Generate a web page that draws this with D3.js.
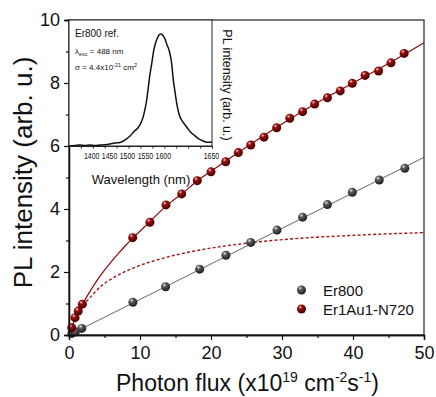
<!DOCTYPE html>
<html>
<head>
<meta charset="utf-8">
<script src="https://cdn.jsdelivr.net/npm/d3@7"></script>
<style>
  body { margin: 0; background: #fff; }
  svg { display: block; font-family: "Liberation Sans", Arial, sans-serif; }
</style>
</head>
<body>
<svg id="chart" width="436" height="397"></svg>
<script>
// main panel data (photon flux in 1e19 cm^-2 s^-1, PL in arb. u.)
const er800X = [0.4, 0.9, 1.8, 9, 13.6, 18.4, 22.1, 25.6, 29.3, 32.9, 36.4, 39.9, 43.7, 47.3];
const er800Y = [0.05, 0.1, 0.21, 1.04, 1.53, 2.09, 2.53, 2.94, 3.33, 3.74, 4.14, 4.53, 4.92, 5.29];
const er1X = [0.38, 0.85, 1.3, 1.88, 8.97, 11.4, 13.66, 15.87, 18.07, 20, 22.07, 23.85, 25.6, 27.46,
  29.25, 31.1, 32.9, 34.6, 36.4, 38.2, 39.9, 41.7, 43.6, 45.35, 47.2];
const er1Y = [0.23, 0.55, 0.76, 0.98, 3.09, 3.58, 4.13, 4.48, 4.9, 5.18, 5.5, 5.79, 6.03, 6.28,
  6.58, 6.88, 7.09, 7.33, 7.53, 7.75, 7.99, 8.24, 8.38, 8.64, 8.94];

// fit curves
const er800FitX = [0, 50];
const er800FitY = [0, 5.64];
const er1FitX = [0, 0.4, 0.9, 1.4, 1.9, 3, 4, 5, 6, 7, 8, 9, 11.4, 13.7, 16, 18, 20, 25, 30, 35, 40, 45, 50];
const er1FitY = [0, 0.24, 0.55, 0.78, 0.98, 1.4, 1.75, 2.06, 2.34, 2.6, 2.85, 3.08, 3.6, 4.1, 4.5, 4.88, 5.2, 5.97, 6.7, 7.38, 8.0, 8.62, 9.28];
const er1DashX = [1.9, 2.6, 4.4, 6.5, 9, 13.8, 18.5, 25.6, 32.5, 39.6, 50];
const er1DashY = [0.95, 1.1, 1.53, 1.85, 2.12, 2.47, 2.7, 2.93, 3.07, 3.16, 3.25];

// inset spectrum (nm, normalised PL)
const specWl = [1350, 1362.6, 1373.1, 1383.6, 1394.1, 1404.5, 1415, 1425.5, 1436, 1446.5, 1457, 1467.5,
  1478, 1486.4, 1494.8, 1501.1, 1505.9, 1509.4, 1513, 1515.7, 1519.9, 1524.1, 1526.8, 1530.4, 1534.6,
  1538.8, 1543, 1547.2, 1551.4, 1555.6, 1559.8, 1561.9, 1565, 1568.8, 1572.4, 1575.9, 1578.7, 1582.9,
  1589.2, 1596.9, 1603.8, 1612.2, 1620.6, 1629, 1635.3, 1641.6, 1650];
const specI = [0, 0.004, 0.008, 0.004, 0.008, 0.004, 0.008, 0.01, 0.016, 0.024, 0.028, 0.048,
  0.079, 0.115, 0.145, 0.185, 0.235, 0.29, 0.365, 0.444, 0.57, 0.667, 0.738, 0.802, 0.849,
  0.881, 0.889, 0.877, 0.849, 0.802, 0.762, 0.73, 0.667, 0.524, 0.429, 0.341, 0.286, 0.23,
  0.19, 0.151, 0.115, 0.087, 0.061, 0.044, 0.034, 0.029, 0.032];

const xTicks = [0, 10, 20, 30, 40, 50];
const yTicks = [0, 2, 4, 6, 8, 10];
const insetTicks = [1400, 1450, 1500, 1550, 1600, 1650];

const red = '#8b0a0a';

const svg = d3.select('#chart');
svg.append('rect').attr('width', 436).attr('height', 397).attr('fill', '#fff');

const defs = svg.append('defs');
function sphereGrad(id, light, mid, dark) {
  const g = defs.append('radialGradient').attr('id', id)
    .attr('cx', '40%').attr('cy', '35%').attr('r', '60%').attr('fx', '35%').attr('fy', '28%');
  g.append('stop').attr('offset', '0%').attr('stop-color', light);
  g.append('stop').attr('offset', '35%').attr('stop-color', mid);
  g.append('stop').attr('offset', '100%').attr('stop-color', dark);
}
sphereGrad('ballRed', '#f4d0d0', '#9a1010', '#4a0000');
sphereGrad('ballGrey', '#eeeeee', '#5c5c5c', '#222222');

const x = d3.scaleLinear().domain([0, 50]).range([69, 424]);
const y = d3.scaleLinear().domain([0, 10]).range([335, 20]);

const line = d3.line().x(d => x(d[0])).y(d => y(d[1])).curve(d3.curveMonotoneX);

// fits
svg.append('path')
  .datum(d3.zip(er1DashX, er1DashY))
  .attr('fill', 'none').attr('stroke', '#a01818').attr('stroke-width', 1.4)
  .attr('stroke-dasharray', '3,2.2').attr('d', line);

svg.append('path')
  .datum(d3.zip(er800FitX, er800FitY))
  .attr('fill', 'none').attr('stroke', '#666').attr('stroke-width', 1).attr('d', line);

svg.append('g').selectAll('circle')
  .data(d3.zip(er800X, er800Y)).join('circle')
  .attr('cx', d => x(d[0])).attr('cy', d => y(d[1])).attr('r', 4.5)
  .attr('fill', 'url(#ballGrey)');

svg.append('path')
  .datum(d3.zip(er1FitX, er1FitY))
  .attr('fill', 'none').attr('stroke', red).attr('stroke-width', 1.2).attr('d', line);

svg.append('g').selectAll('circle')
  .data(d3.zip(er1X, er1Y)).join('circle')
  .attr('cx', d => x(d[0])).attr('cy', d => y(d[1])).attr('r', 4.5)
  .attr('fill', 'url(#ballRed)');

// frame
svg.append('rect')
  .attr('x', x(0)).attr('y', y(10)).attr('width', x(50) - x(0)).attr('height', y(0) - y(10))
  .attr('fill', 'none').attr('stroke', '#333').attr('stroke-width', 1.3);

function styleAxis(g, size) {
  g.select('.domain').attr('stroke', '#111').attr('stroke-width', 1.3);
  g.selectAll('.tick line').attr('stroke', '#111').attr('stroke-width', 1.2);
  g.selectAll('text').attr('font-size', size).attr('fill', '#111')
    .attr('font-family', '"Liberation Sans", Arial, sans-serif');
}

svg.append('g').attr('transform', `translate(0,${y(0)})`)
  .call(d3.axisBottom(x).tickValues(xTicks).tickSize(5).tickPadding(6))
  .call(g => styleAxis(g, 18));
svg.append('g').attr('transform', `translate(0,${y(0)})`)
  .call(d3.axisBottom(x).tickValues([5, 15, 25, 35, 45]).tickSize(3).tickFormat(''))
  .call(g => styleAxis(g, 18));

svg.append('g').attr('transform', `translate(${x(0)},0)`)
  .call(d3.axisLeft(y).tickValues(yTicks).tickSize(5).tickPadding(4))
  .call(g => styleAxis(g, 18));
svg.append('g').attr('transform', `translate(${x(0)},0)`)
  .call(d3.axisLeft(y).tickValues([1, 3, 5, 7, 9]).tickSize(3).tickFormat(''))
  .call(g => styleAxis(g, 18));

// axis titles
svg.append('text')
  .attr('transform', `translate(32,${(y(0) + y(10)) / 2 - 5}) rotate(-90)`)
  .attr('text-anchor', 'middle').attr('font-size', 26).attr('fill', '#111')
  .text('PL intensity (arb. u.)');

const xt = svg.append('text')
  .attr('x', (x(0) + x(50)) / 2 + 1).attr('y', 391)
  .attr('text-anchor', 'middle').attr('font-size', 23).attr('fill', '#111');
xt.append('tspan').text('Photon flux (x10');
xt.append('tspan').attr('font-size', 14).attr('dy', -9).text('19');
xt.append('tspan').attr('dy', 9).text(' cm');
xt.append('tspan').attr('font-size', 14).attr('dy', -9).text('-2');
xt.append('tspan').attr('dy', 9).text('s');
xt.append('tspan').attr('font-size', 14).attr('dy', -9).text('-1');
xt.append('tspan').attr('dy', 9).text(')');

// legend
const legend = svg.append('g');
[['Er800', 'url(#ballGrey)'], ['Er1Au1-N720', 'url(#ballRed)']].forEach((d, i) => {
  legend.append('circle').attr('cx', 301.5).attr('cy', 290 + i * 19).attr('r', 4.5).attr('fill', d[1]);
  legend.append('text').attr('x', 323).attr('y', 295.5 + i * 19)
    .attr('font-size', 15).attr('fill', '#111').text(d[0]);
});

// inset
const xi = d3.scaleLinear().domain([1350, 1650]).range([69, 212]);
const yi = d3.scaleLinear().domain([0, 1]).range([146, 20]);
// tick labels sit slightly off their ticks in the original figure
const xiLabel = d3.scaleLinear().domain([1400, 1600, 1650]).range([91.7, 163.3, 211.5]);

const inset = svg.append('g');
inset.append('rect')
  .attr('x', xi(1350)).attr('y', yi(1)).attr('width', xi(1650) - xi(1350)).attr('height', yi(0) - yi(1))
  .attr('fill', '#fff').attr('stroke', '#222').attr('stroke-width', 1);

inset.append('path')
  .datum(d3.zip(specWl, specI))
  .attr('fill', 'none').attr('stroke', '#111').attr('stroke-width', 1.5)
  .attr('d', d3.line().x(d => xi(d[0])).y(d => yi(d[1])).curve(d3.curveMonotoneX));

inset.append('g').attr('transform', `translate(0,${yi(0)})`)
  .call(d3.axisBottom(xi).tickValues(insetTicks.concat([1375, 1425, 1475, 1525, 1575, 1625])).tickSize(2.5).tickFormat(''))
  .call(g => { g.select('.domain').attr('stroke', '#222'); g.selectAll('.tick line').attr('stroke', '#222'); });

inset.append('g').selectAll('text')
  .data(insetTicks).join('text')
  .attr('x', d => xiLabel(d)).attr('y', 158.5)
  .attr('text-anchor', 'middle').attr('font-size', 8.5).attr('fill', '#111')
  .attr('textLength', 15.5).attr('lengthAdjust', 'spacingAndGlyphs')
  .text(d => d);

inset.append('text')
  .attr('x', 141).attr('y', 183.5).attr('text-anchor', 'middle')
  .attr('font-size', 13).attr('fill', '#111').text('Wavelength (nm)');

inset.append('text')
  .attr('transform', `translate(223,${(yi(0) + yi(1)) / 2 + 2}) rotate(90)`)
  .attr('text-anchor', 'middle').attr('font-size', 12.5).attr('fill', '#111')
  .text('PL intensity (arb. u.)');

inset.append('text').attr('x', 75).attr('y', 37)
  .attr('font-size', 10).attr('fill', '#111').text('Er800 ref.');

const l1 = inset.append('text').attr('x', 75).attr('y', 53.5).attr('font-size', 8).attr('fill', '#111');
l1.append('tspan').text('λ');
l1.append('tspan').attr('font-size', 5.5).attr('dy', 2).text('exc');
l1.append('tspan').attr('dy', -2).text(' = 488 nm');

const l2 = inset.append('text').attr('x', 75).attr('y', 70).attr('font-size', 8).attr('fill', '#111');
l2.append('tspan').text('σ = 4.4x10');
l2.append('tspan').attr('font-size', 5.5).attr('dy', -3.5).text('-21');
l2.append('tspan').attr('dy', 3.5).text(' cm');
l2.append('tspan').attr('font-size', 5.5).attr('dy', -3.5).text('2');
</script>
</body>
</html>
